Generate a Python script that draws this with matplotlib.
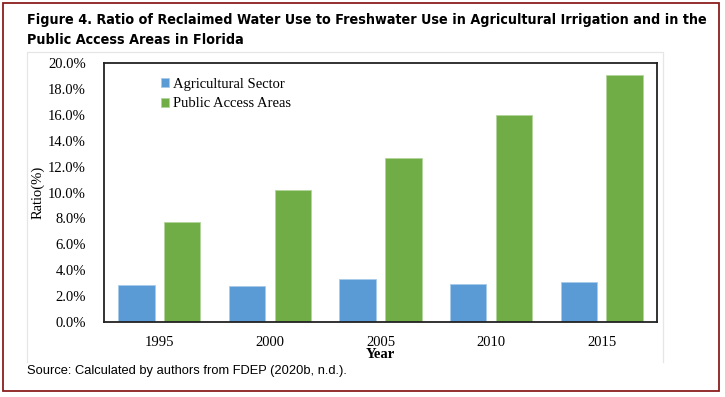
"""Ratio of reclaimed water use to freshwater use, Florida."""

import matplotlib

matplotlib.use("Agg")

import matplotlib.pyplot as plt
import numpy as np
from matplotlib import font_manager
from matplotlib.lines import Line2D
from matplotlib.patches import Rectangle

years = ["1995", "2000", "2005", "2010", "2015"]
agricultural = [0.0286, 0.0276, 0.0330, 0.0291, 0.0309]
public_access = [0.0775, 0.1019, 0.1266, 0.1600, 0.1907]
series_names = ["Agricultural Sector", "Public Access Areas"]
y_ticks = np.arange(0, 0.201, 0.02)

W, H = 725, 397
serif = "Liberation Serif"

# a condensed sans for the title if one is installed
condensed = [f for f in font_manager.fontManager.ttflist
             if f.stretch in ("condensed", "semi-condensed", 400) and "Sans" in f.name]
if condensed:
    title_kw = {"fontfamily": condensed[0].name, "fontstretch": "condensed"}
else:
    title_kw = {"fontfamily": "Liberation Sans"}

fig = plt.figure(figsize=(W / 100, H / 100), dpi=100)


def fx(px):
    return px / W


def fy(py):
    return 1 - py / H


# outer border and light inner frame
fig.patches.append(Rectangle((fx(3), fy(391)), fx(716), 388 / H, transform=fig.transFigure,
                             fill=False, edgecolor="#8b1e1e", linewidth=1.3))
frame_x = [fx(27), fx(27), fx(663), fx(663)]
frame_y = [fy(362), fy(52), fy(52), fy(362)]
fig.lines.append(Line2D(frame_x, frame_y, transform=fig.transFigure, color="#e6e6e6", linewidth=0.9))

t1 = fig.text(fx(27), fy(20), "Figure 4. Ratio of Reclaimed Water Use to Freshwater Use in Agricultural Irrigation and in the",
              fontweight="bold", va="center", ha="left", fontsize=12, **title_kw)
t2 = fig.text(fx(27), fy(40), "Public Access Areas in Florida",
              fontweight="bold", va="center", ha="left", fontsize=12, **title_kw)
# fit the first title line to the reference width (27..703 px)
renderer = fig.canvas.get_renderer()
tw = t1.get_window_extent(renderer).width
size = min(13.5, 12 * 676 / tw)
t1.set_fontsize(size)
t2.set_fontsize(size)

fig.text(fx(27), fy(371), "Source: Calculated by authors from FDEP (2020b, n.d.).",
         fontfamily="Liberation Sans", fontsize=9.3, va="center", ha="left")

ax = fig.add_axes([fx(104), fy(322), (657 - 104) / W, (322 - 63) / H])
x = np.arange(len(years))
w = 0.33
ax.bar(x - 0.207, agricultural, w, color="#5b9bd5", edgecolor="#a9cbeb", linewidth=0.6, label=series_names[0])
ax.bar(x + 0.207, public_access, w, color="#70ad47", edgecolor="#b3d69c", linewidth=0.6, label=series_names[1])

ax.set_xlim(-0.5, len(years) - 0.5)
ax.set_ylim(0, 0.2)
ax.set_yticks(y_ticks)
ax.set_yticklabels([f"{v * 100:.1f}%" for v in y_ticks], fontfamily=serif, fontsize=10.5)
ax.set_xticks(x)
ax.set_xticklabels(years, fontfamily=serif, fontsize=10.5)
ax.tick_params(axis="y", length=0, pad=13)
ax.tick_params(axis="x", length=0, pad=10)
for s in ax.spines.values():
    s.set_linewidth(1.3)
    s.set_color("#222222")

ax.set_xlabel("Year", fontfamily=serif, fontweight="bold", fontsize=10.5, labelpad=-1)
ax.set_ylabel("Ratio(%)", fontfamily=serif, fontsize=10.5, va="center")
ax.yaxis.set_label_coords(-(104 - 38) / 553, 0.5)

ax.legend(loc="upper left", bbox_to_anchor=(0.092, 0.965), frameon=False,
          prop={"family": serif, "size": 10.5}, handlelength=0.6, handleheight=0.6,
          handletextpad=0.25, labelspacing=0.45, borderaxespad=0)

fig.savefig("out.png", dpi=100)
